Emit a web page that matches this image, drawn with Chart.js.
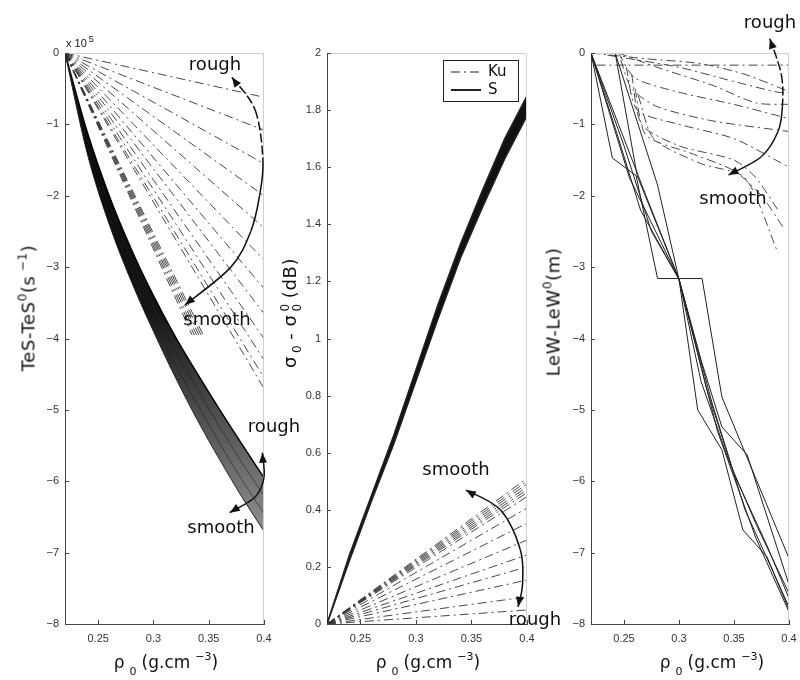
<!DOCTYPE html>
<html>
<head>
<meta charset="utf-8">
<script src="https://cdn.jsdelivr.net/npm/chart.js@4/dist/chart.umd.min.js"></script>
<style>
body { margin: 0; background: #fff; }
#wrap { position: relative; width: 800px; height: 680px; font-family: "DejaVu Sans", sans-serif; color: #111; overflow: hidden; }
canvas { position: absolute; left: 0; top: 0; }
.note { position: absolute; transform: translate(-50%, -50%); font-size: 18px; white-space: nowrap; }
.xt { position: absolute; top: 664px; transform: translate(-50%, -50%); font-size: 17px; white-space: nowrap; }
.xt sub { font-size: 11px; vertical-align: -7px; margin: 0 5px 0 5px; }
.xt sup { font-size: 11px; vertical-align: 8px; margin-left: 5px; }
.yt { position: absolute; transform: translate(-50%, -50%) rotate(-90deg); font-size: 18px; letter-spacing: 0.6px; white-space: nowrap; }
.yt sup { font-size: 12px; vertical-align: 8px; }
.st { display: inline-block; vertical-align: middle; font-size: 12px; line-height: 12px; margin: 0 5px 0 3px; }
.st span { display: block; }
.exp { position: absolute; left: 66px; top: 34px; font-size: 11px; font-family: "Liberation Sans", sans-serif; }
.exp sup { font-size: 9px; vertical-align: 5px; margin-left: 2px; }
</style>
</head>
<body>
<div id="wrap">
  <canvas id="c1" width="800" height="680"></canvas>
  <canvas id="c2" width="800" height="680"></canvas>
  <canvas id="c3" width="800" height="680"></canvas>

  <div class="exp">x 10<sup>5</sup></div>

  <div class="yt" style="left:27px; top:308px">TeS-TeS<sup>0</sup>(s<sup> −1</sup>)</div>
  <div class="yt" style="left:291px; top:313px">σ<span class="st"><span>&nbsp;</span><span>0</span></span>- σ<span class="st"><span>0</span><span>0</span></span>(dB)</div>
  <div class="yt" style="left:552px; top:312px">LeW-LeW<sup>0</sup>(m)</div>

  <div class="xt" style="left:166px">ρ<sub>0</sub>(g.cm<sup>−3</sup>)</div>
  <div class="xt" style="left:428px">ρ<sub>0</sub>(g.cm<sup>−3</sup>)</div>
  <div class="xt" style="left:712px">ρ<sub>0</sub>(g.cm<sup>−3</sup>)</div>

  <div class="note" style="left:215px; top:63px">rough</div>
  <div class="note" style="left:217px; top:318px">smooth</div>
  <div class="note" style="left:274px; top:425px">rough</div>
  <div class="note" style="left:221px; top:526px">smooth</div>
  <div class="note" style="left:456px; top:468px">smooth</div>
  <div class="note" style="left:535px; top:618px">rough</div>
  <div class="note" style="left:770px; top:21px">rough</div>
  <div class="note" style="left:733px; top:197px">smooth</div>
</div>

<script>
// density axis, shared by the three panels
const X_MIN = 0.22;
const X_MAX = 0.4;
const X_TICKS = [0.25, 0.3, 0.35, 0.4];
const RHO = [0.22, 0.24, 0.26, 0.28, 0.30, 0.32, 0.34, 0.36, 0.38, 0.40];

// panel 1 : TeS - TeS0 (x 1e5 s-1)
const TES_Y_TICKS = [-8, -7, -6, -5, -4, -3, -2, -1, 0];
const TES_S_ROUGH = [0, -1.1, -2.0, -2.75, -3.4, -3.98, -4.5, -5.0, -5.48, -5.95];
const TES_S_MID1 = [0, -1.2, -2.13, -2.9, -3.57, -4.18, -4.72, -5.24, -5.74, -6.2];
const TES_S_MID2 = [0, -1.3, -2.27, -3.05, -3.73, -4.37, -4.93, -5.47, -5.98, -6.45];
const TES_S_SMOOTH = [0, -1.4, -2.4, -3.2, -3.9, -4.55, -5.15, -5.7, -6.22, -6.7];
const TES_KU_END_X = [0.4, 0.4, 0.4, 0.4, 0.4, 0.4, 0.4, 0.4, 0.4, 0.4, 0.4, 0.4, 0.345, 0.343, 0.341, 0.339, 0.337, 0.335];
const TES_KU_END_Y = [-0.62, -1.08, -1.55, -2.0, -2.45, -2.9, -3.3, -3.65, -4.0, -4.3, -4.55, -4.7, -3.95, -3.95, -3.95, -3.95, -3.95, -3.95];
const TES_ARROW_1 = [[0.371, -0.34], [0.392, -0.8], [0.399, -1.5], [0.396, -2.0], [0.388, -2.5], [0.37, -3.0], [0.3285, -3.53]];
const TES_ARROW_2 = [[0.3985, -5.6], [0.4, -5.95], [0.392, -6.22], [0.369, -6.44]];

// panel 2 : sigma0 - sigma0^0 (dB)
const SIG_Y_TICKS = [0, 0.2, 0.4, 0.6, 0.8, 1, 1.2, 1.4, 1.6, 1.8, 2];
const SIG_S_UPPER = [0, 0.24, 0.45, 0.66, 0.89, 1.12, 1.33, 1.52, 1.70, 1.85];
const SIG_S_LOWER = [0, 0.22, 0.43, 0.63, 0.85, 1.07, 1.28, 1.46, 1.63, 1.78];
const SIG_KU_END = [0.51, 0.50, 0.49, 0.48, 0.47, 0.46, 0.446, 0.406, 0.353, 0.294, 0.242, 0.2, 0.154, 0.095, 0.049];
const SIG_ARROW = [[0.345, 0.469], [0.376, 0.40], [0.394, 0.26], [0.396, 0.14], [0.392, 0.06]];

// panel 3 : LeW - LeW0 (m)
const LEW_Y_TICKS = [-8, -7, -6, -5, -4, -3, -2, -1, 0];
const LEW_S1 = [[0.22, 0], [0.2394, -1.47], [0.261, -1.72], [0.2805, -3.16], [0.321, -3.16], [0.339, -4.82], [0.4, -7.08]];
const LEW_S2 = [[0.242, 0], [0.2805, -1.85], [0.30, -3.17], [0.32, -4.3], [0.339, -5.24], [0.362, -5.63], [0.4, -7.45]];
const LEW_S3 = [[0.242, 0], [0.262, -1.72], [0.285, -2.6], [0.30, -3.17], [0.317, -5.0], [0.339, -5.56], [0.358, -6.68], [0.38, -7.06], [0.4, -7.8]];
const LEW_S4 = [[0.22, 0], [0.245, -1.0], [0.27, -2.0], [0.30, -3.17], [0.32, -4.6], [0.345, -5.7], [0.37, -6.6], [0.4, -7.57]];
const LEW_S5 = [[0.22, 0], [0.25, -1.3], [0.275, -2.5], [0.30, -3.17], [0.325, -4.7], [0.35, -5.9], [0.38, -6.9], [0.4, -7.64]];
const LEW_S6 = [[0.22, 0], [0.243, -1.1], [0.265, -2.2], [0.30, -3.17], [0.33, -4.9], [0.36, -6.4], [0.4, -7.76]];
const LEW_S7 = [[0.22, 0], [0.255, -1.75], [0.30, -3.17], [0.335, -5.3], [0.37, -6.8], [0.4, -7.83]];
const LEW_KU1 = [[0.225, -0.17], [0.4, -0.17]];
const LEW_KU2 = [[0.22, 0], [0.27, -0.08], [0.32, -0.15], [0.36, -0.3], [0.4, -0.54]];
const LEW_KU3 = [[0.245, 0], [0.28, -0.2], [0.33, -0.45], [0.37, -0.7], [0.4, -0.72]];
const LEW_KU4 = [[0.245, 0], [0.26, -0.35], [0.3, -0.55], [0.35, -0.72], [0.4, -0.92]];
const LEW_KU5 = [[0.247, -0.1], [0.257, -0.5], [0.28, -0.75], [0.33, -0.95], [0.4, -1.1]];
const LEW_KU6 = [[0.252, -0.2], [0.262, -0.8], [0.3, -1.0], [0.35, -1.2], [0.4, -1.6]];
const LEW_KU7 = [[0.257, -0.3], [0.266, -1.0], [0.3, -1.3], [0.35, -1.5], [0.37, -1.75], [0.39, -2.2]];
const LEW_KU8 = [[0.26, -0.5], [0.27, -1.15], [0.31, -1.4], [0.35, -1.65], [0.375, -2.0], [0.395, -2.45]];
const LEW_KU9 = [[0.263, -0.6], [0.277, -1.2], [0.32, -1.55], [0.36, -1.75], [0.39, -2.8]];
const LEW_KU10 = [[0.235, -0.03], [0.3, -0.2], [0.35, -0.4], [0.39, -0.55], [0.4, -0.55]];
const LEW_ARROW = [[0.3826, 0.2], [0.393, -0.3], [0.394, -0.75], [0.39, -1.1], [0.375, -1.45], [0.345, -1.71]];

const KU_DASH = [9, 4, 2, 4];
const INK = '#222';

function series(xs, ys) {
  return xs.map((x, i) => ({ x: x, y: ys[i] }));
}
function pairs(arr) {
  return arr.map(p => ({ x: p[0], y: p[1] }));
}
function kuLine(data, tension) {
  return { data: data, borderColor: '#333', borderWidth: 0.9, borderDash: KU_DASH, tension: tension || 0 };
}
function sLine(data, width) {
  return { data: data, borderColor: INK, borderWidth: width || 1 };
}
function minusFmt(v) {
  return v < 0 ? '\u2212' + Math.abs(v) : String(v);
}

function toPx(chart, p) {
  return { x: chart.scales.x.getPixelForValue(p[0]), y: chart.scales.y.getPixelForValue(p[1]) };
}
function head(ctx, tip, from) {
  const a = Math.atan2(tip.y - from.y, tip.x - from.x);
  const L = 10, W = 4;
  ctx.beginPath();
  ctx.moveTo(tip.x, tip.y);
  ctx.lineTo(tip.x - L * Math.cos(a) + W * Math.sin(a), tip.y - L * Math.sin(a) - W * Math.cos(a));
  ctx.lineTo(tip.x - L * Math.cos(a) - W * Math.sin(a), tip.y - L * Math.sin(a) + W * Math.cos(a));
  ctx.closePath();
  ctx.fill();
}
// smooth curve through the points; segments before `dashTo` are dashed
function drawArrow(ctx, chart, arr, dashTo) {
  const p = arr.map(q => toPx(chart, q));
  for (let i = 0; i < p.length - 1; i++) {
    const p0 = p[i - 1] || p[i], p1 = p[i], p2 = p[i + 1], p3 = p[i + 2] || p2;
    ctx.setLineDash(i < dashTo ? [9, 3] : []);
    ctx.beginPath();
    ctx.moveTo(p1.x, p1.y);
    ctx.bezierCurveTo(p1.x + (p2.x - p0.x) / 6, p1.y + (p2.y - p0.y) / 6,
      p2.x - (p3.x - p1.x) / 6, p2.y - (p3.y - p1.y) / 6, p2.x, p2.y);
    ctx.stroke();
  }
  ctx.setLineDash([]);
  head(ctx, p[0], p[1]);
  head(ctx, p[p.length - 1], p[p.length - 2]);
}

// matlab-like frame: light top/right edges, inward ticks, arrows, legend
const frame = {
  id: 'frame',
  afterDraw(chart, args, opts) {
    const ctx = chart.ctx;
    const a = chart.chartArea;
    ctx.save();
    ctx.lineWidth = 1;
    ctx.strokeStyle = '#cfcfcf';
    ctx.beginPath();
    ctx.moveTo(a.left, a.top + 0.5);
    ctx.lineTo(a.right - 0.5, a.top + 0.5);
    ctx.lineTo(a.right - 0.5, a.bottom);
    ctx.stroke();
    ctx.strokeStyle = '#444';
    ctx.beginPath();
    chart.scales.x.ticks.forEach(t => {
      const px = Math.round(chart.scales.x.getPixelForValue(t.value)) + 0.5;
      ctx.moveTo(px, a.bottom);
      ctx.lineTo(px, a.bottom - 4);
    });
    chart.scales.y.ticks.forEach(t => {
      const py = Math.round(chart.scales.y.getPixelForValue(t.value)) + 0.5;
      ctx.moveTo(a.left, py);
      ctx.lineTo(a.left + 4, py);
    });
    ctx.stroke();

    ctx.strokeStyle = '#111';
    ctx.fillStyle = '#111';
    ctx.lineWidth = 1.5;
    (opts.arrows || []).forEach((arr, i) => drawArrow(ctx, chart, arr, (opts.dashTo || [])[i] || 0));

    if (opts.legend) {
      const bx = a.right - 84, by = a.top + 7, bw = 75, bh = 41;
      ctx.fillStyle = '#fff';
      ctx.fillRect(bx, by, bw, bh);
      ctx.strokeStyle = '#222';
      ctx.lineWidth = 1;
      ctx.strokeRect(bx + 0.5, by + 0.5, bw, bh);
      ctx.setLineDash(KU_DASH);
      ctx.beginPath();
      ctx.moveTo(bx + 8, by + 12);
      ctx.lineTo(bx + 38, by + 12);
      ctx.stroke();
      ctx.setLineDash([]);
      ctx.lineWidth = 2;
      ctx.beginPath();
      ctx.moveTo(bx + 8, by + 30);
      ctx.lineTo(bx + 38, by + 30);
      ctx.stroke();
      ctx.fillStyle = '#111';
      ctx.font = '15px "DejaVu Sans"';
      ctx.textBaseline = 'middle';
      ctx.fillText('Ku', bx + 45, by + 12);
      ctx.fillText('S', bx + 45, by + 30);
    }
    ctx.restore();
  }
};

function makePanel(id, area, yTicks, datasets, frameOpts) {
  const tickFont = { family: 'Liberation Sans', size: 11 };
  return new Chart(document.getElementById(id), {
    type: 'scatter',
    data: { datasets: datasets },
    options: {
      responsive: false,
      animation: false,
      events: [],
      layout: { padding: { left: area.left - 40, right: 800 - area.right, top: area.top, bottom: 680 - area.bottom - 30 } },
      elements: { point: { radius: 0 }, line: { borderWidth: 1, tension: 0, fill: false } },
      datasets: { scatter: { showLine: true, pointRadius: 0 } },
      plugins: { legend: { display: false }, tooltip: { enabled: false }, frame: frameOpts },
      scales: {
        x: {
          type: 'linear', min: X_MIN, max: X_MAX,
          afterBuildTicks: s => { s.ticks = X_TICKS.map(v => ({ value: v })); },
          afterFit: s => { s.height = 30; s.paddingLeft = 0; s.paddingRight = 0; },
          grid: { drawOnChartArea: false, drawTicks: false },
          border: { color: '#444' },
          ticks: { padding: 8, color: '#333', font: tickFont, maxRotation: 0, callback: v => String(v) }
        },
        y: {
          type: 'linear', min: yTicks[0], max: yTicks[yTicks.length - 1],
          afterBuildTicks: s => { s.ticks = yTicks.map(v => ({ value: v })); },
          afterFit: s => { s.width = 40; s.paddingTop = 0; s.paddingBottom = 0; },
          grid: { drawOnChartArea: false, drawTicks: false },
          border: { color: '#444' },
          ticks: { padding: 6, color: '#333', font: tickFont, callback: v => minusFmt(v) }
        }
      }
    },
    plugins: [frame]
  });
}

// dark at the top of the band, hatched grey further down
function bandFill(context) {
  const a = context.chart.chartArea;
  if (!a) return '#333';
  const g = context.chart.ctx.createLinearGradient(0, a.top, 0, a.bottom);
  g.addColorStop(0, '#000');
  g.addColorStop(0.45, '#151515');
  g.addColorStop(0.6, '#444');
  g.addColorStop(0.82, '#8a8a8a');
  g.addColorStop(1, '#999');
  return g;
}

// ---- panel 1
const p1 = TES_KU_END_Y.map((y, i) => kuLine([{ x: X_MIN, y: 0 }, { x: TES_KU_END_X[i], y: y }]));
p1.push({ data: series(RHO, TES_S_SMOOTH), borderColor: INK, borderWidth: 1, cubicInterpolationMode: 'monotone' });
p1.push({ data: series(RHO, TES_S_MID2), borderColor: '#222', borderWidth: 0.6, cubicInterpolationMode: 'monotone' });
p1.push({ data: series(RHO, TES_S_MID1), borderColor: '#222', borderWidth: 0.6, cubicInterpolationMode: 'monotone' });
p1.push({ data: series(RHO, TES_S_ROUGH), borderColor: '#000', borderWidth: 1.4, cubicInterpolationMode: 'monotone',
  fill: '-3', backgroundColor: bandFill });
makePanel('c1', { left: 65, right: 264, top: 53, bottom: 624 }, TES_Y_TICKS, p1,
  { arrows: [TES_ARROW_1, TES_ARROW_2], dashTo: [2, 0] });

// ---- panel 2
const p2 = SIG_KU_END.map(y => kuLine([{ x: X_MIN, y: 0 }, { x: X_MAX, y: y }]));
p2.push({ data: series(RHO, SIG_S_LOWER), borderColor: INK, borderWidth: 1.5 });
p2.push({ data: series(RHO, SIG_S_UPPER), borderColor: INK, borderWidth: 1.5, fill: '-1', backgroundColor: '#111' });
makePanel('c2', { left: 327, right: 527, top: 53, bottom: 624 }, SIG_Y_TICKS, p2, { arrows: [SIG_ARROW], legend: true });

// ---- panel 3
const p3 = [LEW_KU1, LEW_KU2, LEW_KU3, LEW_KU4, LEW_KU5, LEW_KU6, LEW_KU7, LEW_KU8, LEW_KU9, LEW_KU10]
  .map(l => kuLine(pairs(l), 0.25));
[LEW_S1, LEW_S2, LEW_S3, LEW_S4, LEW_S5, LEW_S6, LEW_S7].forEach(l => p3.push(sLine(pairs(l), 1)));
makePanel('c3', { left: 591, right: 789, top: 53, bottom: 624 }, LEW_Y_TICKS, p3, { arrows: [LEW_ARROW], dashTo: [2] });
</script>
</body>
</html>
